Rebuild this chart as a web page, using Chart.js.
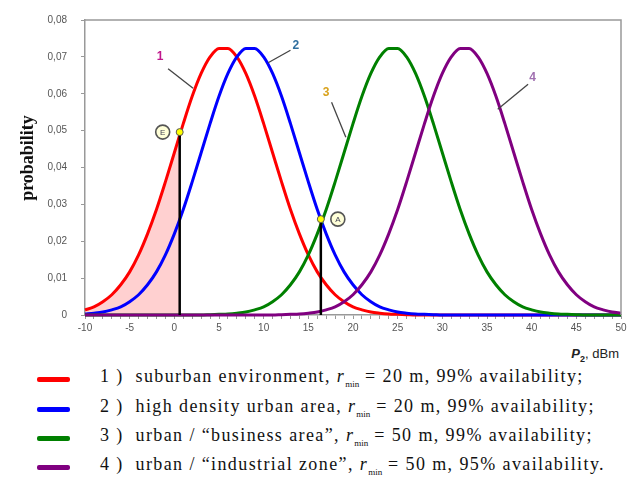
<!DOCTYPE html>
<html>
<head>
<meta charset="utf-8">
<script src="https://cdn.jsdelivr.net/npm/chart.js@4.4.1/dist/chart.umd.min.js"></script>
<style>
  body { margin: 0; background: #fff; }
  #wrap { position: relative; width: 632px; height: 499px; }
  #plot { position: absolute; left: 0; top: 0; width: 632px; height: 345px; }
  #xtitle { position: absolute; right: 13px; top: 346px; font: 13px "Liberation Sans", Arial, sans-serif; color: #222; }
  #xtitle i { font-weight: bold; font-size: 13px; }
  #xtitle sub { font-size: 9px; font-weight: bold; }
  .row { position: absolute; left: 37px; height: 24px; font: 18px "Liberation Serif", "Times New Roman", serif; color: #111; white-space: nowrap; }
  .row .swatch { position: absolute; left: 0; top: 10px; width: 33px; height: 5px; border-radius: 2px; }
  .row .txt { position: absolute; left: 63px; top: -1px; letter-spacing: 1.4px; }
  .row sub { font-size: 9px; letter-spacing: 0; }
</style>
</head>
<body>
<div id="wrap">
  <div id="plot"><canvas id="chartDist"></canvas></div>
  <div id="xtitle"><i>P</i><sub>2</sub>, dBm</div>
  <div class="row" style="top:367px"><span class="swatch" style="background:#ff0000"></span><span class="txt">1 )&nbsp; suburban environment, <i>r</i><sub>min</sub> = 20 m, 99% availability;</span></div>
  <div class="row" style="top:397px"><span class="swatch" style="background:#0000ff"></span><span class="txt">2 )&nbsp; high density urban area, <i>r</i><sub>min</sub> = 20 m, 99% availability;</span></div>
  <div class="row" style="top:426px"><span class="swatch" style="background:#008000"></span><span class="txt">3 )&nbsp; urban / “business area”, <i>r</i><sub>min</sub> = 50 m, 99% availability;</span></div>
  <div class="row" style="top:455px"><span class="swatch" style="background:#800080"></span><span class="txt">4 )&nbsp; urban / “industrial zone”, <i>r</i><sub>min</sub> = 50 m, 95% availability.</span></div>
</div>
<script>
/* valores */
const xValues = [-10, -9, -8, -7, -6, -5, -4, -3, -2, -1, 0, 1, 2, 3, 4, 5, 6, 7, 8, 9,
  10, 11, 12, 13, 14, 15, 16, 17, 18, 19, 20, 21, 22, 23, 24, 25, 26, 27, 28, 29,
  30, 31, 32, 33, 34, 35, 36, 37, 38, 39, 40, 41, 42, 43, 44, 45, 46, 47, 48, 49, 50];

const suburban = [0.0014, 0.0022, 0.0036, 0.0055, 0.0082, 0.0117, 0.0163, 0.0220, 0.0286, 0.0361,
  0.0440, 0.0519, 0.0593, 0.0655, 0.0700, 0.0723, 0.0723, 0.0700, 0.0655, 0.0593,
  0.0519, 0.0440, 0.0361, 0.0286, 0.0220, 0.0163, 0.0117, 0.0082, 0.0055, 0.0036,
  0.0022, 0.0014, 0.0008, 0.0005, 0.0003, 0.0002, 0.0001, 0, 0, 0,
  0, 0, 0, 0, 0, 0, 0, 0, 0, 0, 0, 0, 0, 0, 0, 0, 0, 0, 0, 0, 0];

const highDensity = [0.0003, 0.0005, 0.0008, 0.0014, 0.0022, 0.0036, 0.0055, 0.0082, 0.0117, 0.0163,
  0.0220, 0.0286, 0.0361, 0.0440, 0.0519, 0.0593, 0.0655, 0.0700, 0.0723, 0.0723,
  0.0700, 0.0655, 0.0593, 0.0519, 0.0440, 0.0361, 0.0286, 0.0220, 0.0163, 0.0117,
  0.0082, 0.0055, 0.0036, 0.0022, 0.0014, 0.0008, 0.0005, 0.0003, 0.0002, 0.0001,
  0, 0, 0, 0, 0, 0, 0, 0, 0, 0, 0, 0, 0, 0, 0, 0, 0, 0, 0, 0, 0];

const business = [0, 0, 0, 0, 0, 0, 0, 0, 0, 0, 0, 0, 0, 0,
  0.0001, 0.0002, 0.0003, 0.0005, 0.0008, 0.0014, 0.0022, 0.0036, 0.0055, 0.0082,
  0.0117, 0.0163, 0.0220, 0.0286, 0.0361, 0.0440, 0.0519, 0.0593, 0.0655, 0.0700,
  0.0723, 0.0723, 0.0700, 0.0655, 0.0593, 0.0519, 0.0440, 0.0361, 0.0286, 0.0220,
  0.0163, 0.0117, 0.0082, 0.0055, 0.0036, 0.0022, 0.0014, 0.0008, 0.0005, 0.0003,
  0.0002, 0.0001, 0, 0, 0, 0, 0];

const industrial = [0, 0, 0, 0, 0, 0, 0, 0, 0, 0, 0, 0, 0, 0, 0, 0, 0, 0, 0, 0, 0, 0,
  0.0001, 0.0002, 0.0003, 0.0005, 0.0008, 0.0014, 0.0022, 0.0036, 0.0055, 0.0082,
  0.0117, 0.0163, 0.0220, 0.0286, 0.0361, 0.0440, 0.0519, 0.0593, 0.0655, 0.0700,
  0.0723, 0.0723, 0.0700, 0.0655, 0.0593, 0.0519, 0.0440, 0.0361, 0.0286, 0.0220,
  0.0163, 0.0117, 0.0082, 0.0055, 0.0036, 0.0022, 0.0014, 0.0008, 0.0005];

// pontos marcados E e A
const markE = { x: 0.6, y: 0.0496 };
const markA = { x: 16.4, y: 0.026 };

// rotulos das curvas: [texto, x, y, linha x1, y1, x2, y2]
const curveLabels = [
  ['1', -1.6, 0.0700, -0.7, 0.0668, 2.1, 0.0615],
  ['2', 13.6, 0.0731, 13.0, 0.0718, 10.5, 0.0684],
  ['3', 17.0, 0.0604, 17.6, 0.0577, 19.2, 0.0482],
  ['4', 40.1, 0.0644, 39.6, 0.0626, 36.2, 0.0558]
];
const labelColors = ['#c0168c', '#2f6f9f', '#d9a21b', '#a070b0'];

const toPoints = (ys) => xValues.map((x, i) => ({ x: x, y: ys[i] }));

const shadePoints = xValues.map((x, i) => ({ x: x, y: suburban[i] }))
  .filter(p => p.x <= 0).concat([markE, { x: markE.x, y: 0 }]);

const lineDs = (label, ys, color, order) => ({
  label: label,
  data: toPoints(ys),
  borderColor: color,
  borderWidth: 3,
  pointRadius: 0,
  tension: 0.4,
  cubicInterpolationMode: 'monotone',
  fill: false,
  clip: false,
  order: order
});

const decor = {
  id: 'decor',
  afterDraw(chart) {
    const c = chart.ctx, xs = chart.scales.x, ys = chart.scales.y, a = chart.chartArea;
    c.save();
    // moldura
    c.strokeStyle = '#999';
    c.lineWidth = 1.5;
    c.beginPath();
    c.moveTo(a.left, a.top); c.lineTo(a.right, a.top); c.lineTo(a.right, a.bottom);
    c.stroke();
    // rotulos 1..4
    curveLabels.forEach((l, i) => {
      c.strokeStyle = '#444';
      c.lineWidth = 1.3;
      c.beginPath();
      c.moveTo(xs.getPixelForValue(l[3]), ys.getPixelForValue(l[4]));
      c.lineTo(xs.getPixelForValue(l[5]), ys.getPixelForValue(l[6]));
      c.stroke();
      c.fillStyle = labelColors[i];
      c.font = 'bold 12px "Liberation Sans", Arial, sans-serif';
      c.textAlign = 'center';
      c.textBaseline = 'middle';
      c.fillText(l[0], xs.getPixelForValue(l[1]), ys.getPixelForValue(l[2]));
    });
    // circulos E e A
    [[markE, 'E', -17], [markA, 'A', 17]].forEach(m => {
      const px = xs.getPixelForValue(m[0].x) + m[2];
      const py = ys.getPixelForValue(m[0].y);
      c.beginPath();
      c.arc(px, py, 7, 0, Math.PI * 2);
      c.fillStyle = '#ffffd8';
      c.fill();
      c.strokeStyle = '#555';
      c.lineWidth = 1.6;
      c.stroke();
      c.fillStyle = '#445';
      c.font = '8px "Liberation Sans", Arial, sans-serif';
      c.fillText(m[1], px, py + 0.5);
    });
    // titulo do eixo y
    c.translate(28, 158);
    c.rotate(-Math.PI / 2);
    c.fillStyle = '#111';
    c.font = 'bold 18px "Liberation Serif", "Times New Roman", serif';
    c.textAlign = 'center';
    c.textBaseline = 'middle';
    c.fillText('probability', 0, 0);
    c.restore();
  }
};

new Chart(document.getElementById('chartDist'), {
  type: 'line',
  data: {
    datasets: [
      {
        label: 'shade',
        data: shadePoints,
        borderWidth: 0,
        pointRadius: 0,
        backgroundColor: 'rgba(255, 150, 150, 0.45)',
        fill: 'origin',
        tension: 0.4,
        cubicInterpolationMode: 'monotone',
        order: 10
      },
      lineDs('1', suburban, '#ff0000', 5),
      lineDs('2', highDensity, '#0000ff', 4),
      lineDs('3', business, '#008000', 3),
      lineDs('4', industrial, '#800080', 2),
      {
        label: 'vE',
        data: [{ x: markE.x, y: 0 }, markE],
        borderColor: '#000',
        borderWidth: 2.5,
        pointRadius: [0, 3.5],
        pointBackgroundColor: '#ffff00',
        pointBorderColor: '#555',
        pointBorderWidth: 1,
        clip: false,
        order: 1
      },
      {
        label: 'vA',
        data: [{ x: markA.x, y: 0 }, markA],
        borderColor: '#000',
        borderWidth: 2.5,
        pointRadius: [0, 3.5],
        pointBackgroundColor: '#ffff00',
        pointBorderColor: '#555',
        pointBorderWidth: 1,
        clip: false,
        order: 0
      }
    ]
  },
  options: {
    responsive: true,
    maintainAspectRatio: false,
    animation: false,
    layout: { padding: { top: 14, right: 11, left: 0, bottom: 0 } },
    plugins: {
      legend: { display: false },
      tooltip: { enabled: false }
    },
    scales: {
      x: {
        type: 'linear',
        min: -10,
        max: 50,
        afterFit: (s) => { s.height = 30; },
        border: { display: true, color: '#999', width: 1.5 },
        grid: { display: true, drawOnChartArea: false, drawTicks: true, tickLength: 4, color: '#999' },
        ticks: {
          stepSize: 1,
          maxTicksLimit: 100,
          autoSkip: false,
          maxRotation: 0,
          padding: 3,
          color: '#555',
          font: { size: 10, family: '"Liberation Sans", Arial, sans-serif' },
          callback: (v) => (v % 5 === 0 ? v : '')
        }
      },
      y: {
        min: 0,
        max: 0.08,
        afterFit: (s) => { s.width = 85; },
        border: { display: true, color: '#999', width: 1.5 },
        grid: { display: true, drawOnChartArea: false, drawTicks: true, tickLength: 4, color: '#999' },
        ticks: {
          stepSize: 0.01,
          padding: 14,
          color: '#555',
          font: { size: 10, family: '"Liberation Sans", Arial, sans-serif' },
          callback: (v) => (v === 0 ? '0' : v.toFixed(2).replace('.', ','))
        }
      }
    }
  },
  plugins: [decor]
});
</script>
</body>
</html>
